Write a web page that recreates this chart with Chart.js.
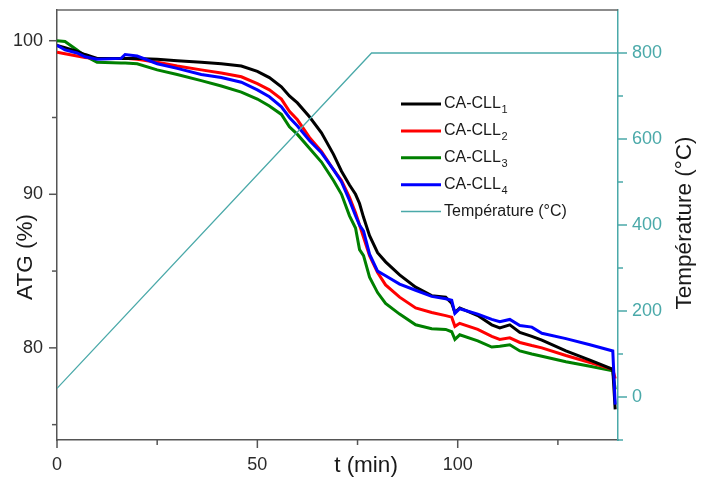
<!DOCTYPE html>
<html>
<head>
<meta charset="utf-8">
<script src="https://cdn.jsdelivr.net/npm/chart.js@4/dist/chart.umd.min.js"></script>
<style>
html,body{margin:0;padding:0;background:#fff;}
#wrap{width:709px;height:481px;position:relative;}
</style>
</head>
<body>
<div id="wrap"><canvas id="c" width="709" height="481"></canvas></div>
<script>
// ---- data ----
const times = [0,2,5,7,10,16,17,20,25,30,36,41,46,50,53,56,58,60,63,66,69,71,73,74.5,75.5,76.5,78,80,82,85.5,89.5,93.5,97,98.5,99.3,100.5,105,108.5,110.5,113,115.5,118.5,121,127,133,138.7,139.3];
const cll1 = [99.7,99.55,99.3,99.1,98.85,98.85,98.85,98.85,98.8,98.7,98.6,98.5,98.35,98.0,97.6,97.0,96.4,95.95,95.05,94.0,92.6,91.5,90.6,90.0,89.4,88.5,87.3,86.2,85.6,84.75,83.95,83.4,83.3,82.9,82.3,82.6,82.1,81.5,81.3,81.5,81.0,80.75,80.5,79.8,79.2,78.6,76.0];
const cll2 = [99.25,99.15,99.0,98.9,98.85,98.85,98.85,98.8,98.6,98.35,98.1,97.9,97.65,97.2,96.8,96.2,95.4,94.85,93.7,92.8,91.6,90.9,89.8,88.8,88.0,87.2,86.0,84.9,84.1,83.3,82.6,82.3,82.1,82.0,81.4,81.6,81.2,80.75,80.55,80.65,80.35,80.15,80.0,79.5,79.05,78.6,78.0];
const cll3 = [100.0,99.95,99.4,99.0,98.6,98.55,98.55,98.5,98.1,97.8,97.4,97.05,96.65,96.2,95.75,95.2,94.4,93.9,93.0,92.1,90.9,90.0,88.6,87.8,86.4,86.0,84.6,83.6,82.9,82.2,81.5,81.25,81.2,81.05,80.55,80.85,80.45,80.05,80.1,80.2,79.8,79.6,79.45,79.1,78.8,78.5,77.3];
const cll4 = [99.7,99.4,99.2,98.95,98.8,98.85,99.1,99.0,98.5,98.2,97.8,97.6,97.3,96.8,96.35,95.7,95.0,94.45,93.5,92.7,91.6,90.8,89.6,88.6,88.0,87.6,86.1,85.0,84.7,84.15,83.75,83.35,83.2,83.1,82.25,82.55,82.2,81.85,81.7,81.85,81.45,81.35,80.95,80.6,80.2,79.8,76.3];
const tempTimes = [0,78.5,140];
const tempValues = [20,800,800];

const seriesNames = ['CA-CLL','CA-CLL','CA-CLL','CA-CLL'];
const seriesSubs = ['1','2','3','4'];
const tempName = 'Température (°C)';

const xMajor = [0,50,100], xMinor = [25,75,125];
const yMajor = [80,90,100], yMinor = [75,85,95];
const y2Major = [0,200,400,600,800], y2Minor = [-100,100,300,500,700];

const TEAL = '#4aa9a9';
const FONT = '"Liberation Sans", Arial, sans-serif';

const pts = (ts, vs) => ts.map((t,i)=>({x:t,y:vs[i]}));

const overlay = {
  id:'overlay',
  afterDraw(chart){
    const {ctx, chartArea:a, scales} = chart;
    const x = scales.x, y = scales.y, y2 = scales.y2;
    ctx.save();
    // top frame
    ctx.strokeStyle = '#666'; ctx.lineWidth = 1.5;
    ctx.beginPath(); ctx.moveTo(a.left, a.top); ctx.lineTo(a.right, a.top); ctx.stroke();
    // tick marks
    const tk = (col, list, len, fn) => {
      ctx.strokeStyle = col; ctx.lineWidth = 1.5;
      list.forEach(v => { ctx.beginPath(); fn(v, len); ctx.stroke(); });
    };
    tk('#555', xMajor, 8, (v,l)=>{const p=x.getPixelForValue(v); ctx.moveTo(p,a.bottom); ctx.lineTo(p,a.bottom+l);});
    tk('#555', xMinor, 5, (v,l)=>{const p=x.getPixelForValue(v); ctx.moveTo(p,a.bottom); ctx.lineTo(p,a.bottom+l);});
    tk('#555', yMajor, 8, (v,l)=>{const p=y.getPixelForValue(v); ctx.moveTo(a.left,p); ctx.lineTo(a.left-l,p);});
    tk('#555', yMinor, 5, (v,l)=>{const p=y.getPixelForValue(v); ctx.moveTo(a.left,p); ctx.lineTo(a.left-l,p);});
    tk(TEAL, y2Major, 9, (v,l)=>{const p=y2.getPixelForValue(v); ctx.moveTo(a.right,p); ctx.lineTo(a.right+l,p);});
    tk(TEAL, y2Minor, 5, (v,l)=>{const p=y2.getPixelForValue(v); ctx.moveTo(a.right,p); ctx.lineTo(a.right+l,p);});

    // axis titles
    ctx.fillStyle = '#1a1a1a';
    ctx.font = '22.5px ' + FONT;
    ctx.textAlign = 'center'; ctx.textBaseline = 'middle';
    ctx.fillText('t (min)', 366, 466);
    ctx.save(); ctx.translate(26, 257); ctx.rotate(-Math.PI/2); ctx.fillText('ATG (%)', 0, 0); ctx.restore();
    ctx.save(); ctx.translate(685, 223); ctx.rotate(-Math.PI/2); ctx.fillText('Température (°C)', 0, 0); ctx.restore();

    // legend
    const ds = chart.data.datasets;
    const x0 = 401, x1 = 441, tx = 444, ty0 = 104, dy = 26.9;
    ds.forEach((d, i) => {
      const yy = ty0 + i*dy;
      ctx.strokeStyle = d.borderColor; ctx.lineWidth = i < 4 ? 3 : 1.5;
      ctx.beginPath(); ctx.moveTo(x0, yy); ctx.lineTo(x1, yy); ctx.stroke();
      ctx.fillStyle = '#1a1a1a';
      ctx.textAlign = 'left'; ctx.textBaseline = 'middle';
      ctx.font = '16px ' + FONT;
      if (i < 4) {
        ctx.fillText(seriesNames[i], tx, yy);
        const w = ctx.measureText(seriesNames[i]).width;
        ctx.font = '11px ' + FONT;
        ctx.fillText(seriesSubs[i], tx + w + 0.5, yy + 6);
      } else {
        ctx.fillText(tempName, tx, yy);
      }
    });
    ctx.restore();
  }
};

const noPad = s => { s.paddingTop = 0; s.paddingBottom = 0; };

new Chart(document.getElementById('c'), {
  type: 'line',
  data: {
    datasets: [
      {label:'CA-CLL1', data:pts(times,cll1), borderColor:'#000000', borderWidth:3, yAxisID:'y', order:2},
      {label:'CA-CLL2', data:pts(times,cll2), borderColor:'#ff0000', borderWidth:3, yAxisID:'y', order:3},
      {label:'CA-CLL3', data:pts(times,cll3), borderColor:'#008000', borderWidth:3, yAxisID:'y', order:4},
      {label:'CA-CLL4', data:pts(times,cll4), borderColor:'#0000ff', borderWidth:3, yAxisID:'y', order:1},
      {label:tempName, data:pts(tempTimes,tempValues), borderColor:TEAL, borderWidth:1.3, yAxisID:'y2', order:0}
    ]
  },
  options: {
    responsive:false, animation:false,
    elements:{point:{radius:0}, line:{tension:0, borderJoinStyle:'miter'}},
    layout:{padding:{top:10, left:0, right:0, bottom:0}},
    plugins:{legend:{display:false}, tooltip:{enabled:false}},
    scales:{
      x:{
        type:'linear', min:0, max:140,
        afterBuildTicks: s => { s.ticks = xMajor.map(v=>({value:v})); },
        afterFit: s => { s.height = 41; s.paddingLeft = 0; s.paddingRight = 0; },
        grid:{display:false, drawTicks:false},
        border:{display:true, color:'#555', width:1.5},
        ticks:{padding:14, color:'#2a2a2a', font:{family:FONT, size:18}, maxRotation:0}
      },
      y:{
        type:'linear', position:'left', min:74, max:102,
        afterBuildTicks: s => { s.ticks = yMajor.map(v=>({value:v})); },
        afterFit: s => { s.width = 57; noPad(s); },
        grid:{display:false, drawTicks:false},
        border:{display:true, color:'#555', width:1.5},
        ticks:{padding:14, color:'#2a2a2a', font:{family:FONT, size:18}}
      },
      y2:{
        type:'linear', position:'right', min:-100, max:900,
        afterBuildTicks: s => { s.ticks = y2Major.map(v=>({value:v})); },
        afterFit: s => { s.width = 91; noPad(s); },
        grid:{display:false, drawTicks:false},
        border:{display:true, color:TEAL, width:1.5},
        ticks:{padding:14, color:TEAL, font:{family:FONT, size:18}}
      }
    }
  },
  plugins:[overlay]
});
</script>
</body>
</html>
